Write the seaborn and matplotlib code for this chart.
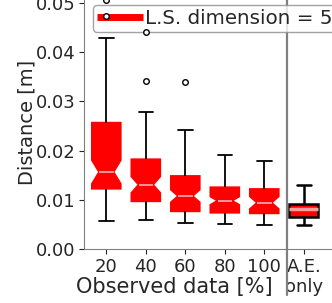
import numpy as np
import pandas as pd
import matplotlib.pyplot as plt
from matplotlib.lines import Line2D
from matplotlib.ticker import FormatStrFormatter
import seaborn as sns

sns.set_style('ticks', {'axes.edgecolor': '0.5'})
plt.rcParams['font.family'] = ['DejaVu Sans']

# Distance per observed-data percentage, last group is the A.E. only run
groups = ['20', '40', '60', '80', '100', 'A.E.\nonly']
whisk_lo = [0.00568, 0.00594, 0.00527, 0.00513, 0.00493, 0.00493]
q1 = [0.01229, 0.00974, 0.00771, 0.00742, 0.00730, 0.00661]
median = [0.01568, 0.01310, 0.01081, 0.00986, 0.00945, 0.00811]
q3 = [0.02568, 0.01826, 0.01487, 0.01258, 0.01223, 0.00919]
whisk_hi = [0.04292, 0.02791, 0.02420, 0.01913, 0.01797, 0.01300]
fliers = [[0.0474, 0.0505], [0.0341, 0.0441], [0.0339], [], [], []]
n_runs = [77, 65, 77, 93, 37, 5]


def runs(lo, a, m, b, hi, out, n):
    # sorted sample (n = 4k+1) whose quartiles / whiskers hit the read values
    k = (n - 1) // 4
    top = [b] * (k - len(out) - 1) + [hi] + sorted(out)
    return [lo] + [a] * k + [m] * k + [b] * k + top


rows = []
for i, g in enumerate(groups):
    vals = runs(whisk_lo[i], q1[i], median[i], q3[i], whisk_hi[i], fliers[i], n_runs[i])
    rows += [(g, v) for v in vals]
df = pd.DataFrame(rows, columns=['group', 'distance'])

fig = plt.figure(figsize=(3.32, 3.03), dpi=100)
ax = fig.add_axes([84 / 332, (303 - 249.3) / 303, 266 / 332, 254.3 / 303])

obs = df[df['group'] != groups[-1]]
sns.boxplot(data=obs, x='group', y='distance', order=groups, notch=True, width=0.73,
            color='red', saturation=1, linecolor='black', linewidth=1.3, ax=ax,
            boxprops=dict(edgecolor='red'),
            medianprops=dict(color='#ffb0b0', linewidth=1.2),
            flierprops=dict(marker='o', markersize=4, markerfacecolor='white',
                            markeredgecolor='black', zorder=6))
ae = df[df['group'] == groups[-1]]
sns.boxplot(data=ae, x='group', y='distance', order=groups, width=0.73,
            color='red', saturation=1, linecolor='black', linewidth=1.8, ax=ax,
            medianprops=dict(color='#ff9a9a', linewidth=2.5))

ax.set_xlim(-0.565, 6.17)
ax.set_ylim(0, 0.05158)
ax.set_yticks(np.arange(0, 0.051, 0.01))
ax.yaxis.set_major_formatter(FormatStrFormatter('%.2f'))
ax.tick_params(labelsize=13, length=3.5, width=0.8, pad=2.5)
ax.axvline(4.575, ymin=-0.18, ymax=1, color='0.5', lw=1.6, clip_on=False, zorder=3)

ax.set_ylabel('Distance [m]', fontsize=14, labelpad=-0.5)
ax.set_xlabel('Observed data [%]', fontsize=15)
ax.xaxis.set_label_coords(0.338, -0.108)

handle = Line2D([], [], color='red', lw=5, solid_capstyle='butt')
leg = ax.legend([handle], ['L.S. dimension = 5'], loc='upper left',
                bbox_to_anchor=(93.3 / 332, 1 - 5 / 303), bbox_transform=fig.transFigure,
                borderaxespad=0, borderpad=0.2, handlelength=2.3, handletextpad=0.12,
                fontsize=14.3, frameon=True, fancybox=True, framealpha=0.8)
leg.get_frame().set_edgecolor('0.55')
leg.get_frame().set_facecolor('white')
leg.get_frame().set_linewidth(1.0)

fig.savefig('out.png', dpi=100)
